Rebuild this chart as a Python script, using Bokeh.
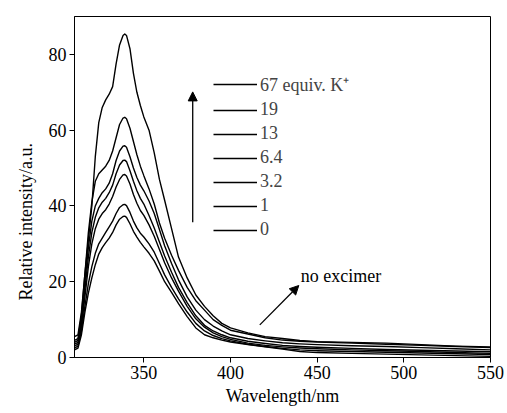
from bokeh.plotting import figure
from bokeh.models import Range1d, FixedTicker, Legend, LegendItem, Arrow, NormalHead, Label, Title
from bokeh.embed import file_html
from bokeh.resources import INLINE

wavelength = [310, 312, 314, 316, 318, 320, 322, 324, 326, 328, 330, 332, 334, 336, 338, 339, 340, 342, 344, 346,
              348, 350, 353, 356, 359, 362, 366, 370, 375, 380, 385, 390, 395, 400, 410, 420, 430, 440, 450, 470,
              490, 510, 530, 550]

k67 = [5.5, 6, 12, 22, 31, 40, 53, 62, 66, 68, 69.5, 71.5, 77.5, 82.5, 85, 85.4, 85, 81.5, 75, 70,
       66.5, 63.5, 60, 54, 47, 41.5, 34, 26.5, 21, 16.5, 13.5, 11, 9, 7.8, 6.5, 5.5, 5, 4.5, 4.2, 4.0,
       3.8, 3.4, 3.0, 2.8]
k19 = [4.5, 5, 11, 22, 33, 41, 46.5, 48.5, 49.5, 50.5, 52, 54.5, 58, 61.5, 63.2, 63.4, 63, 60.5, 57, 53.5,
       50.5, 48, 44.5, 40.5, 35.5, 31.5, 27, 23, 18.5, 15, 12.5, 10, 8.5, 7.2, 6.2, 5.2, 4.6, 4.3, 4.1, 3.8,
       3.5, 3.2, 2.9, 2.6]
k13 = [4, 4.5, 10, 20, 29, 36, 40, 42, 43.5, 44.5, 46, 48.5, 52, 54.5, 55.8, 55.9, 55.5, 53, 50, 47.5,
       45.5, 44, 41.3, 38, 33.8, 29.5, 24.8, 20.5, 16, 12.5, 10, 8.3, 7, 6, 5, 4.4, 3.9, 3.6, 3.4, 3.1,
       2.9, 2.6, 2.3, 2.0]
k6_4 = [3.5, 4, 9, 18, 26.5, 33, 37, 39.5, 41, 42, 43.5, 45.5, 48.5, 50.8, 52, 52.1, 51.7, 49.3, 46.5, 44,
        42, 40.5, 37.5, 34.2, 30.5, 26.8, 22.5, 18.5, 14.5, 11, 8.5, 7, 6, 5.2, 4.3, 3.7, 3.2, 2.9, 2.7, 2.4,
        2.1, 1.9, 1.7, 1.5]
k3_2 = [3, 3.5, 8, 16, 24, 30, 34, 36.5, 38, 39, 40.5, 42.5, 45, 47, 48.2, 48.3, 47.9, 45.8, 43, 40.7,
        38.8, 37.5, 35, 32, 28.5, 25, 21, 17.5, 13.5, 10.2, 8, 6.5, 5.5, 4.8, 3.8, 3.2, 2.8, 2.5, 2.3, 2.0,
        1.8, 1.6, 1.3, 1.1]
k1 = [2.5, 3, 7, 13.5, 19.5, 24, 27.5, 30, 31.5, 33, 34.5, 36, 38, 39.6, 40.3, 40.4, 40.1, 38.3, 36, 34.2,
      32.8, 31.8, 30, 27.8, 24.8, 21.8, 18.5, 15.5, 12, 9, 7, 5.8, 5, 4.4, 3.5, 2.9, 2.4, 2.0, 1.8, 1.6,
      1.4, 1.2, 1.0, 0.8]
k0 = [2, 2.5, 6, 12, 17, 21, 24.5, 27.3, 29, 30.3, 31.5, 33, 35, 36.5, 37.2, 37.3, 37, 35.3, 33.3, 31.8,
      30.4, 29.2, 27.5, 25.5, 22.8, 20, 17.2, 14.2, 10.8, 7.8, 6, 5.2, 4.6, 4.1, 3.4, 2.8, 2.2, 1.6, 1.3, 1.1,
      0.9, 0.7, 0.5, 0.3]

series = [k67, k19, k13, k6_4, k3_2, k1, k0]
labels = ["67 equiv. K\u207a", "19", "13", "6.4", "3.2", "1", "0"]

x_ticks = [350, 400, 450, 500, 550]
y_ticks = [0, 20, 40, 60, 80]

up_arrow_x = [378.2, 378.2]
up_arrow_y = [35.7, 70.1]
ex_arrow_x = [416.9, 439.4]
ex_arrow_y = [8.6, 19.0]
ex_text_pos = [440.5, 21.6]

FONT = "Liberation Serif"
FS = "18px"

p = figure(width=507, height=413, output_backend="svg", toolbar_location=None,
           x_range=Range1d(310, 550), y_range=Range1d(0, 90),
           min_border_left=74, min_border_right=17, min_border_top=16, min_border_bottom=56)
p.background_fill_color = "white"
p.border_fill_color = "white"
p.outline_line_color = "black"
p.outline_line_width = 1
p.grid.visible = False

renderers = []
for ys in series:
    r = p.line(wavelength, ys, line_color="black", line_width=1.4, line_join="round")
    renderers.append(r)

legend = Legend(items=[LegendItem(label=l, renderers=[r]) for l, r in zip(labels, renderers)],
                location=(139, 117), glyph_width=44, glyph_height=20, label_height=20,
                spacing=3, padding=0, margin=0, label_standoff=3,
                label_text_font=FONT, label_text_font_size=FS,
                border_line_color=None, background_fill_alpha=0)
p.add_layout(legend)

for ax in (p.xaxis[0], p.yaxis[0]):
    ax.axis_line_color = "black"
    ax.major_tick_line_color = "black"
    ax.major_tick_out = 5
    ax.major_tick_in = 0
    ax.minor_tick_line_color = None
    ax.major_label_text_font = FONT
    ax.major_label_text_font_size = FS
    ax.major_label_text_color = "black"
    ax.axis_label_text_font = FONT
    ax.axis_label_text_font_size = FS
    ax.axis_label_text_font_style = "normal"
    ax.axis_label_text_color = "black"
    ax.major_label_standoff = 3
    ax.axis_label_standoff = 4

p.xaxis.ticker = FixedTicker(ticks=x_ticks)
p.yaxis.ticker = FixedTicker(ticks=y_ticks)
p.xaxis.axis_label = "Wavelength/nm"

p.add_layout(Title(text="Relative intensity/a.u.", align="left", offset=57, standoff=20,
                   text_font=FONT, text_font_size=FS, text_font_style="normal", text_color="black"), "left")

p.add_layout(Arrow(end=NormalHead(size=9, fill_color="black", line_color="black"),
                   x_start=up_arrow_x[0], y_start=up_arrow_y[0], x_end=up_arrow_x[1], y_end=up_arrow_y[1],
                   line_color="black", line_width=1.3))
p.add_layout(Arrow(end=NormalHead(size=9, fill_color="black", line_color="black"),
                   x_start=ex_arrow_x[0], y_start=ex_arrow_y[0], x_end=ex_arrow_x[1], y_end=ex_arrow_y[1],
                   line_color="black", line_width=1.3))
p.add_layout(Label(x=ex_text_pos[0], y=ex_text_pos[1], text="no excimer", text_font=FONT,
                   text_font_size=FS, text_baseline="middle", text_color="black"))

open("out.html", "w").write(file_html(p, INLINE))
